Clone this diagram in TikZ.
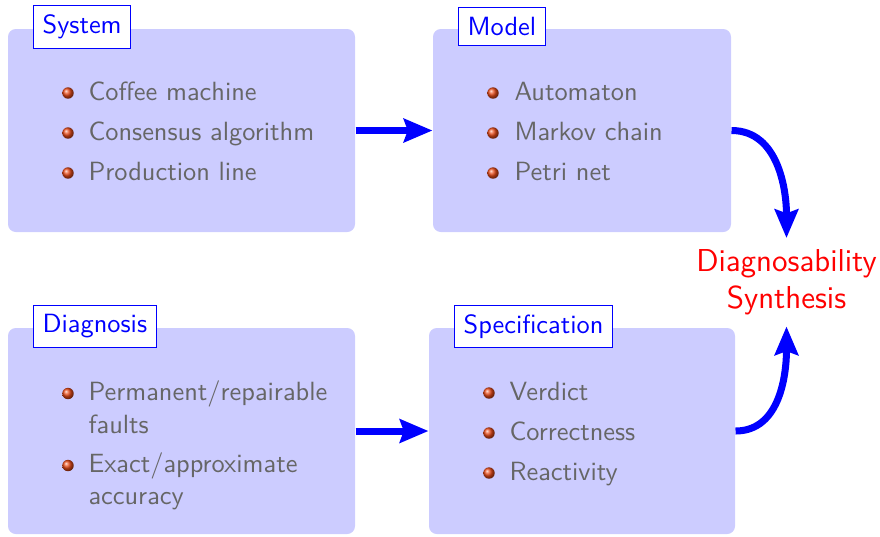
\documentclass[tikz,border=0pt]{standalone}
\usetikzlibrary{arrows.meta,shadings,fit}
\definecolor{ballc}{RGB}{235,75,25}
\begin{document}
\begin{tikzpicture}[x=0.385pt,y=-0.385pt,
  panel/.style={fill=blue!20, rounded corners=3pt, inner sep=0pt},
  tag/.style={draw=blue, line width=0.4pt, fill=white, text=blue,
    font=\fontsize{10.15}{12}\selectfont\sffamily,
    inner xsep=3.5pt, inner ysep=3.6pt, anchor=west},
  entry/.style={text=black!60, font=\fontsize{10.15}{12}\selectfont\sffamily,
    anchor=base west, inner sep=0pt},
  dot/.style={circle, inner sep=0pt, minimum size=4.4pt, shade, ball color=ballc},
  flow/.style={draw=blue, line width=2.7pt, -{Stealth[length=11pt,width=9pt,inset=1.5pt]}},
  goal/.style={text=red, font=\fontsize{12.2}{13.9}\selectfont\sffamily, align=center,
    inner xsep=0pt, inner ysep=4.4pt, anchor=north}
]
\useasboundingbox (0,0) rectangle (880,536);

% panels
\node[panel, fit={(8,29) (355,232)}] (sys) {};
\node[panel, fit={(433,29) (731,232)}] (mod) {};
\node[panel, fit={(8,328) (355,534)}] (diag) {};
\node[panel, fit={(429,328) (735,534)}] (spec) {};

% panel titles
\node[tag] (sysT) at (33,27) {System};
\node[tag] (modT) at (458,26.5) {Model};
\node[tag] (diagT) at (33,326.5) {Diagnosis};
\node[tag] (specT) at (454,326.5) {Specification};

% System items
\node[dot] (s1b) at (68,93) {};
\node[dot] (s2b) at (68,133) {};
\node[dot] (s3b) at (68,173) {};
\node[entry] (s1) at (88,100) {Coffee machine};
\node[entry] (s2) at (88,140) {Consensus algorithm};
\node[entry] (s3) at (88,180) {Production line};

% Model items
\node[dot] (m1b) at (493,93) {};
\node[dot] (m2b) at (493,133) {};
\node[dot] (m3b) at (493,173) {};
\node[entry] (m1) at (514,100) {Automaton};
\node[entry] (m2) at (514,140) {Markov chain};
\node[entry] (m3) at (514,180) {Petri net};

% Diagnosis items
\node[dot] (d1b) at (68,393.5) {};
\node[dot] (d2b) at (68,465.5) {};
\node[entry] (d1) at (88,400) {Permanent/repairable};
\node[entry] (d1c) at (88,433) {faults};
\node[entry] (d2) at (88,472) {Exact/approximate};
\node[entry] (d2c) at (88,504.5) {accuracy};

% Specification items
\node[dot] (p1b) at (489,393) {};
\node[dot] (p2b) at (489,433) {};
\node[dot] (p3b) at (489,473) {};
\node[entry] (p1) at (509,400) {Verdict};
\node[entry] (p2) at (509,440) {Correctness};
\node[entry] (p3) at (509,480) {Reactivity};

% goal
\node[goal] (syn) at (786.5,238) {Diagnosability\\Synthesis};

% arrows
\draw[flow] (sys.east) -- (mod.west);
\draw[flow] (diag.east) -- (spec.west);
\draw[flow] (mod.east) to[out=0,in=90] (syn.north);
\draw[flow] (spec.east) to[out=0,in=-90] (syn.south);
\end{tikzpicture}
\end{document}
